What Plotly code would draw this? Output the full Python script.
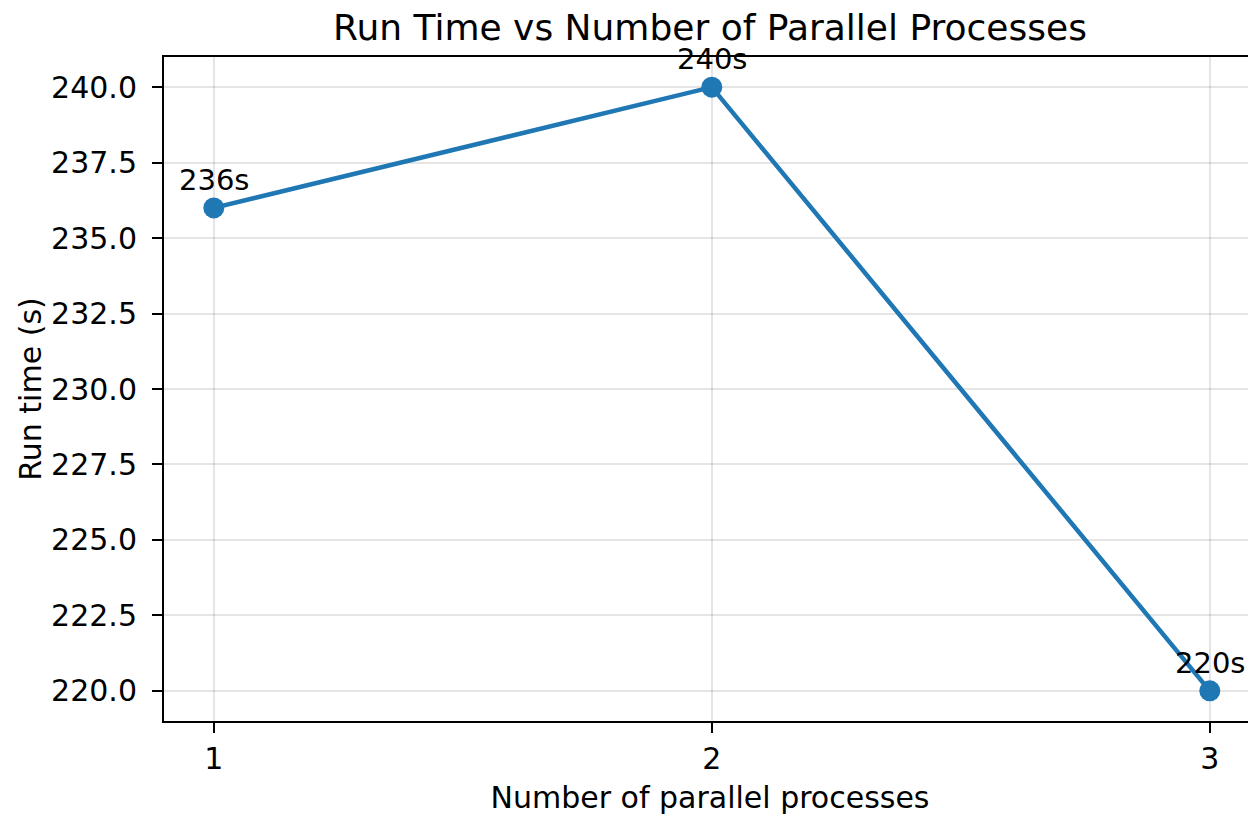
import plotly.graph_objects as go

processes = [1, 2, 3]
run_times = [236, 240, 220]
labels = ["236s", "240s", "220s"]
y_ticks = [220.0, 222.5, 225.0, 227.5, 230.0, 232.5, 235.0, 237.5, 240.0]

blue = "#1f77b4"
font = "DejaVu Sans"

W, H = 1248, 807  # page body has an 8px margin

fig = go.Figure()
fig.add_trace(go.Scatter(
    x=processes, y=run_times, mode="lines+markers",
    line=dict(color=blue, width=4.5),
    marker=dict(color=blue, size=21),
    showlegend=False, hoverinfo="x+y",
))
for x, y, t in zip(processes, run_times, labels):
    fig.add_annotation(x=x, y=y, text=t, showarrow=False, yshift=28,
                       font=dict(family=font, size=29, color="black"))

fig.update_layout(
    width=W, height=H,
    margin=dict(l=156, r=0, t=49, b=94),
    paper_bgcolor="white", plot_bgcolor="white",
    title=dict(text="Run Time vs Number of Parallel Processes",
               x=0.5, xref="paper", y=1 - 19.5 / H, yanchor="middle",
               font=dict(family=font, size=36, color="black")),
    font=dict(family=font, size=30, color="black"),
)
fig.update_xaxes(
    range=[0.9, 3.0928], tickvals=processes, ticktext=[str(p) for p in processes],
    showline=True, linecolor="black", linewidth=2, mirror=True,
    ticks="outside", ticklen=10, tickwidth=2, tickcolor="black",
    showgrid=True, gridcolor="rgba(0,0,0,0.1)", gridwidth=1.5, zeroline=False,
    title=dict(text="Number of parallel processes", font=dict(size=30), standoff=13),
    tickfont=dict(size=30),
)
fig.update_yaxes(
    range=[219, 241], tickvals=y_ticks, ticktext=[f"{v:.1f}" for v in y_ticks],
    showline=True, linecolor="black", linewidth=2, mirror=False,
    ticks="outside", ticklen=10, tickwidth=2, tickcolor="black",
    ticklabelstandoff=9,
    showgrid=True, gridcolor="rgba(0,0,0,0.1)", gridwidth=1.5, zeroline=False,
    title=dict(text="Run time (s)", font=dict(size=30), standoff=1),
    tickfont=dict(size=30),
)
fig.write_html("out.html")
